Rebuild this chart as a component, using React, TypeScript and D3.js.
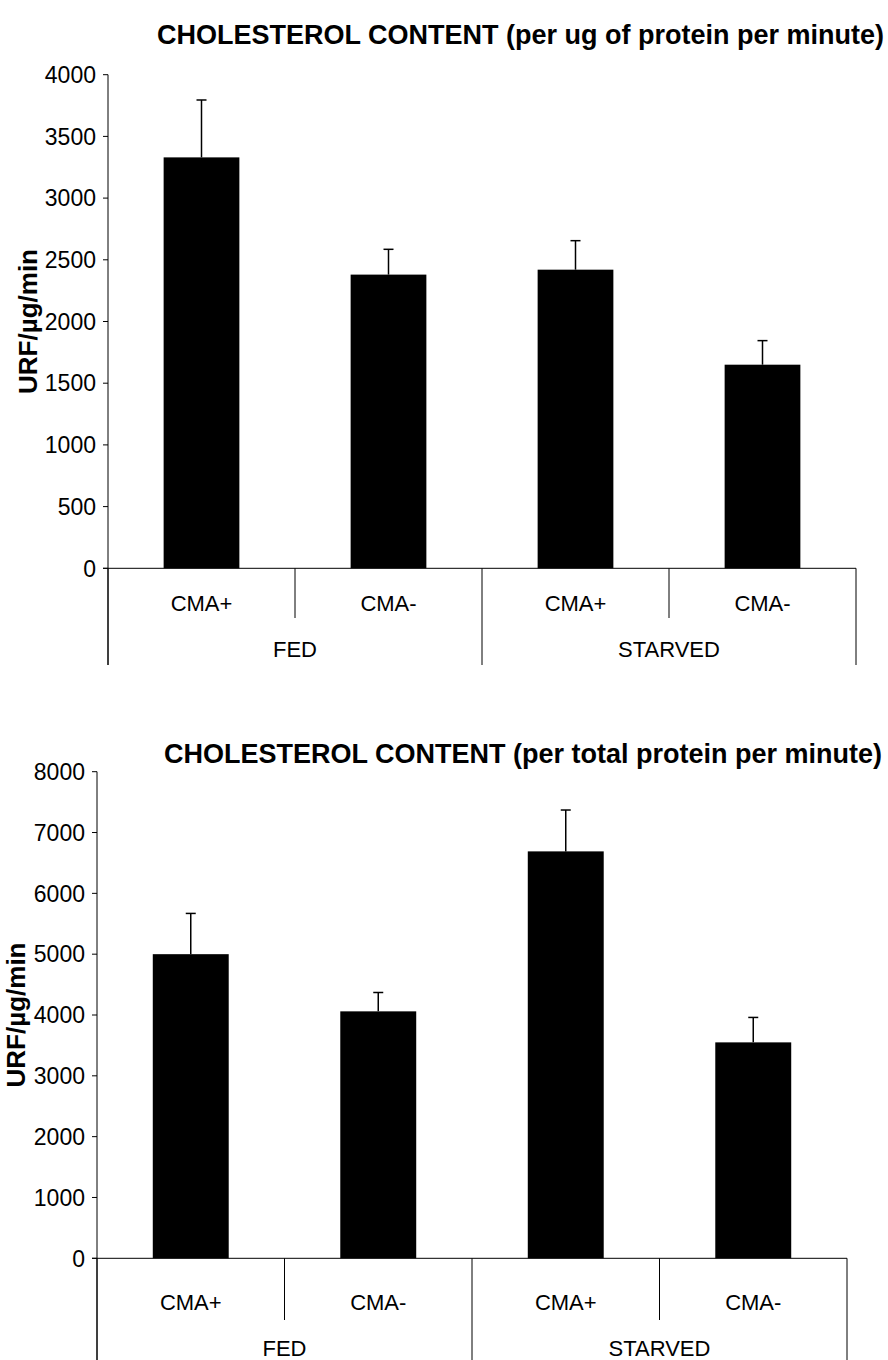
import React from "react";
import * as d3 from "d3";

// categories (inner + outer level)
const categories = ["FED CMA+", "FED CMA-", "STARVED CMA+", "STARVED CMA-"];
const innerLabels = ["CMA+", "CMA-", "CMA+", "CMA-"];
const groupLabels = ["FED", "STARVED"];

// panel 1: per ug of protein per minute
const perUgMeans = [3330, 2380, 2420, 1650];
const perUgErrors = [465, 205, 235, 195];
const perUgTicks = [0, 500, 1000, 1500, 2000, 2500, 3000, 3500, 4000];

// panel 2: per total protein per minute
const totalMeans = [5000, 4060, 6690, 3550];
const totalErrors = [670, 310, 680, 410];
const totalTicks = [0, 1000, 2000, 3000, 4000, 5000, 6000, 7000, 8000];

const FONT = "'Liberation Sans', Arial, Helvetica, sans-serif";

function Panel(props) {
  const {
    title, titleX, titleY, means, errors, ticks, yMax,
    x0, x1, yTop, yZero, labelX, innerY, groupY, innerEnd, outerEnd,
  } = props;

  const x = d3.scaleBand().domain(categories).range([x0, x1]).padding(0);
  const y = d3.scaleLinear().domain([0, yMax]).range([yZero, yTop]);
  const bw = x.bandwidth() * 0.405;
  const groupW = (x1 - x0) / groupLabels.length;

  return (
    <g>
      <text x={titleX} y={titleY} textAnchor="end" fontFamily={FONT}
        fontWeight="bold" fontSize={27}>{title}</text>
      <text transform={`translate(${labelX},${(yTop + yZero) / 2}) rotate(-90)`}
        textAnchor="middle" fontFamily={FONT} fontWeight="bold" fontSize={26}>URF/µg/min</text>

      {/* y axis */}
      <line x1={x0} x2={x0} y1={yTop} y2={outerEnd} stroke="#000" />
      {ticks.map((t) => (
        <g key={t}>
          <line x1={x0 - 5} x2={x0} y1={y(t)} y2={y(t)} stroke="#000" />
          <text x={x0 - 12} y={y(t)} dy="0.36em" textAnchor="end"
            fontFamily={FONT} fontSize={23}>{t}</text>
        </g>
      ))}

      {/* bars */}
      {categories.map((c, i) => {
        const cx = x(c) + x.bandwidth() / 2;
        const top = y(means[i] + errors[i]);
        return (
          <g key={c}>
            <rect x={cx - bw / 2} y={y(means[i])} width={bw}
              height={y(0) - y(means[i])} fill="#000" />
            <line x1={cx} x2={cx} y1={y(means[i])} y2={top} stroke="#000" strokeWidth={1.5} />
            <line x1={cx - 5} x2={cx + 5} y1={top} y2={top} stroke="#000" strokeWidth={1.5} />
          </g>
        );
      })}

      {/* x axis */}
      <line x1={x0 - 5} x2={x1} y1={yZero} y2={yZero} stroke="#000" />
      {categories.map((c, i) => (
        <g key={"l" + c}>
          {i % 2 === 1 && (
            <line x1={x(c)} x2={x(c)} y1={yZero} y2={innerEnd} stroke="#000" />
          )}
          {i % 2 === 0 && (
            <line x1={x(c)} x2={x(c)} y1={yZero} y2={outerEnd} stroke="#000" />
          )}
          <text x={x(c) + x.bandwidth() / 2} y={innerY} textAnchor="middle"
            fontFamily={FONT} fontSize={22}>{innerLabels[i]}</text>
        </g>
      ))}
      <line x1={x1} x2={x1} y1={yZero} y2={outerEnd} stroke="#000" />
      {groupLabels.map((g, i) => (
        <text key={g} x={x0 + groupW * (i + 0.5)} y={groupY} textAnchor="middle"
          fontFamily={FONT} fontSize={22}>{g}</text>
      ))}
    </g>
  );
}

export default function App() {
  return (
    <svg width={888} height={1360} style={{ position: "absolute", left: 0, top: 0, background: "#fff" }}>
      <rect width={888} height={1360} fill="#fff" />
      <Panel
        title="CHOLESTEROL CONTENT (per ug of protein per minute)"
        titleX={884} titleY={44}
        means={perUgMeans} errors={perUgErrors} ticks={perUgTicks} yMax={4000}
        x0={108} x1={856} yTop={74.7} yZero={568.3} labelX={37}
        innerY={611} groupY={657} innerEnd={618} outerEnd={665}
      />
      <Panel
        title="CHOLESTEROL CONTENT (per total protein per minute)"
        titleX={882} titleY={763}
        means={totalMeans} errors={totalErrors} ticks={totalTicks} yMax={8000}
        x0={97} x1={847} yTop={771.7} yZero={1258.3} labelX={25}
        innerY={1310} groupY={1356} innerEnd={1320} outerEnd={1360}
      />
    </svg>
  );
}
